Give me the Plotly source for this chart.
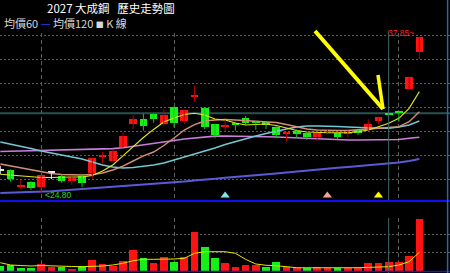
import plotly.graph_objects as go

W, H = 450, 273

# ---------------- data ----------------
opens = [26.75, 26.75, 25.47, 25.78, 25.31, 26.58, 26.25, 25.83, 26.25, 26.47,
         27.92, 27.50, 28.69, 30.56, 30.97, 31.42, 30.61, 32.03, 30.86, 32.92,
         31.94, 30.56, 30.44, 30.60, 31.06, 30.80, 30.78, 30.36, 29.81, 30.00,
         29.85, 29.48, 30.03, 29.81, 29.81, 30.08, 30.14, 30.86, 31.47, 31.56,
         33.47, 36.55]
highs = [27.10, 26.80, 25.92, 25.82, 26.35, 26.58, 26.39, 26.19, 26.39, 27.80,
         28.28, 28.40, 29.86, 31.33, 31.42, 31.45, 31.81, 32.05, 31.80, 33.75,
         32.00, 30.60, 30.92, 30.78, 31.25, 30.85, 30.80, 30.40, 29.94, 30.14,
         29.90, 29.85, 30.14, 29.85, 30.03, 30.14, 30.97, 31.20, 31.50, 31.60,
         34.55, 37.85]
lows = [26.40, 25.78, 25.14, 25.08, 24.80, 26.00, 25.69, 25.50, 25.31, 26.03,
        27.31, 27.45, 28.65, 30.14, 30.03, 30.69, 30.45, 30.28, 30.58, 32.44,
        30.14, 29.39, 29.94, 30.03, 30.50, 30.10, 30.17, 29.39, 29.11, 29.40,
        29.25, 29.17, 29.81, 29.33, 29.47, 29.67, 30.00, 30.56, 31.45, 30.78,
        33.45, 36.00]
closes = [26.75, 25.96, 25.47, 25.22, 26.33, 26.58, 25.86, 26.06, 25.69, 27.78,
          27.92, 28.36, 29.58, 30.97, 30.44, 30.97, 31.33, 30.64, 31.75, 32.92,
          30.36, 29.67, 30.44, 30.60, 30.69, 30.80, 30.50, 29.67, 29.81, 29.75,
          29.50, 29.81, 30.03, 29.53, 29.81, 29.86, 30.58, 31.19, 31.47, 31.56,
          34.53, 37.85]
# colour of each candle as drawn (R = up, G = down, W = unchanged)
candle_kinds = ['W', 'G', 'R', 'G', 'R', 'W', 'G', 'R', 'G', 'R',
                'R', 'R', 'R', 'R', 'G', 'G', 'R', 'G', 'R', 'R',
                'G', 'G', 'R', 'G', 'G', 'G', 'G', 'G', 'R', 'G',
                'G', 'R', 'R', 'G', 'R', 'G', 'R', 'R', 'G', 'G',
                'R', 'R']

ma_short = [26.39, 26.33, 26.25, 26.17, 26.13, 26.13, 26.17, 26.17, 26.17, 26.29,
            26.67, 27.17, 27.92, 28.71, 29.46, 30.13, 30.75, 31.08, 31.38, 31.48,
            31.33, 31.00, 30.92, 30.67, 30.50, 30.54, 30.58, 30.46, 30.25, 30.04,
            29.92, 29.86, 29.86, 29.86, 29.86, 29.94, 30.08, 30.36, 30.64, 31.06,
            31.89, 33.28]
ma_mid = [27.25, 27.08, 26.92, 26.75, 26.58, 26.46, 26.38, 26.33, 26.33, 26.38,
          26.50, 26.75, 27.08, 27.50, 27.92, 28.25, 28.79, 29.42, 30.08, 30.54,
          30.83, 30.92, 30.96, 30.92, 30.88, 30.83, 30.79, 30.71, 30.54, 30.33,
          30.17, 30.08, 30.04, 30.04, 30.04, 30.08, 30.17, 30.23, 30.31, 30.36,
          30.78, 31.61]
ma_long = [29.08, 28.92, 28.75, 28.54, 28.33, 28.17, 28.00, 27.83, 27.67, 27.42,
           27.17, 27.00, 26.92, 26.96, 27.04, 27.17, 27.33, 27.58, 27.83, 28.08,
           28.29, 28.58, 28.88, 29.13, 29.38, 29.58, 29.79, 30.00, 30.17, 30.33,
           30.42, 30.42, 30.42, 30.38, 30.33, 30.28, 30.25, 30.23, 30.23, 30.33,
           30.50, 30.83]
ma60 = [28.29, 28.31, 28.32, 28.33, 28.35, 28.37, 28.38, 28.40, 28.42, 28.45,
        28.48, 28.53, 28.60, 28.71, 28.83, 28.96, 29.08, 29.21, 29.33, 29.43,
        29.52, 29.57, 29.58, 29.58, 29.57, 29.54, 29.52, 29.50, 29.46, 29.42,
        29.38, 29.33, 29.31, 29.28, 29.25, 29.25, 29.25, 29.25, 29.25, 29.29,
        29.39, 29.48]
ma120 = [24.83, 24.85, 24.88, 24.90, 24.93, 24.98, 25.04, 25.10, 25.17, 25.23,
         25.30, 25.37, 25.42, 25.48, 25.52, 25.57, 25.64, 25.71, 25.79, 25.88,
         25.93, 26.02, 26.11, 26.17, 26.25, 26.32, 26.38, 26.46, 26.54, 26.63,
         26.71, 26.79, 26.88, 26.93, 27.00, 27.08, 27.15, 27.21, 27.27, 27.38,
         27.50, 27.67]

volumes = [1250, 1530, 780, 610, 1720, 1060, 890, 420, 1250, 2920,
           1810, 1250, 2640, 5700, 3390, 2170, 3670, 2450, 3670, 10790,
           6450, 3390, 2170, 890, 1530, 1530, 890, 2280, 890, 610,
           610, 890, 780, 610, 610, 700, 2170, 2170, 2450, 2450,
           4110, 14320]
volume_kinds = ['G', 'G', 'G', 'G', 'R', 'R', 'G', 'R', 'G', 'R',
                'R', 'R', 'R', 'R', 'G', 'R', 'R', 'G', 'R', 'R',
                'G', 'G', 'R', 'R', 'R', 'R', 'G', 'G', 'R', 'R',
                'G', 'R', 'R', 'G', 'R', 'R', 'R', 'R', 'R', 'R',
                'R', 'R']
volume_ma = [2170, 1530, 1390, 1250, 1390, 1250, 1170, 1110, 1060, 1110,
             1250, 1530, 2000, 2720, 3110, 3110, 3110, 3200, 3390, 4780,
             5230, 5230, 5230, 4780, 3110, 1810, 1450, 1330, 1060, 780,
             760, 740, 730, 730, 750, 780, 860, 950, 1060, 1530,
             2450, 5060]

month_starts = [4, 17, 39]
price_grid = [26, 28, 30, 32, 34, 36, 38]
volume_grid = [5000, 10000]
signal_idx = [22, 32, 37]
signal_colors = ['#7fe4ee', '#f2a58c', '#ffff00']
crosshair_idx = 38

TITLE = '2027 大成鋼\u00a0\u00a0\u00a0歷史走勢圖'
LEGEND = ('均價60 <span style="color:#3434ff">—</span> 均價120 '
          '<span style="font-size:8px">■</span> K 線')

# ---------------- styling / layout constants ----------------
BODY_COL = {'R': '#ff1212', 'G': '#16f016', 'W': '#e6e6e6'}
WICK_COL = {'R': '#b80000', 'G': '#12c812', 'W': '#e6e6e6'}
GRID = '#5c5c5c'
DOJI = 0.11
X_RANGE = [-0.03, 44.0]
PRICE_RANGE = [24.1667, 38.1667]
VOL_RANGE = [-695, 14595]


def py(p):  # pixel row -> paper y
    return 1 - p / H


def px(p):  # pixel column -> paper x
    return p / W


n = len(closes)
xs = list(range(n))

fig = go.Figure()

# moving averages (price panel)
for vals, col, wd in [(ma120, '#5a5ad8', 2.0), (ma60, '#cc7ddc', 1.6),
                      (ma_long, '#72c8d4', 1.5), (ma_mid, '#d48e78', 1.4),
                      (ma_short, '#e6e61e', 1.1)]:
    fig.add_trace(go.Scatter(x=xs, y=vals, mode='lines', line=dict(color=col, width=wd),
                             hoverinfo='skip', xaxis='x', yaxis='y'))

# wicks
for k in 'RGW':
    wx, wy = [], []
    for i in range(n):
        if candle_kinds[i] == k:
            wx += [i, i, None]
            wy += [lows[i], highs[i], None]
    fig.add_trace(go.Scatter(x=wx, y=wy, mode='lines', line=dict(color=WICK_COL[k], width=1),
                             hoverinfo='skip', xaxis='x', yaxis='y'))

# bodies
base, height = [], []
for o, c in zip(opens, closes):
    if abs(c - o) < DOJI:
        base.append((o + c) / 2 - DOJI / 2)
        height.append(DOJI)
    else:
        base.append(min(o, c))
        height.append(abs(c - o))
fig.add_trace(go.Bar(x=xs, y=height, base=base, width=0.75,
                     marker=dict(color=[BODY_COL[k] for k in candle_kinds], line=dict(width=0)),
                     hoverinfo='skip', xaxis='x', yaxis='y'))

# signal triangles
sig_level = PRICE_RANGE[0] + 0.45
fig.add_trace(go.Scatter(x=signal_idx, y=[sig_level] * len(signal_idx), mode='markers',
                         marker=dict(symbol='triangle-up', size=8, color=signal_colors,
                                     line=dict(width=0)),
                         hoverinfo='skip', xaxis='x', yaxis='y'))

# volume
fig.add_trace(go.Bar(x=xs, y=volumes, width=0.75,
                     marker=dict(color=[BODY_COL[k] for k in volume_kinds], line=dict(width=0)),
                     hoverinfo='skip', xaxis='x', yaxis='y2'))
fig.add_trace(go.Scatter(x=xs, y=volume_ma, mode='lines', line=dict(color='#e8e800', width=1),
                         hoverinfo='skip', xaxis='x', yaxis='y2'))

i_max = max(range(n), key=lambda i: highs[i])
i_min = min(range(n), key=lambda i: lows[i])

shapes = [
    # crosshair
    dict(type='line', xref='paper', x0=0, x1=1, yref='y',
         y0=closes[crosshair_idx], y1=closes[crosshair_idx],
         line=dict(color='#2b5252', width=2), layer='below'),
    dict(type='line', xref='x', x0=crosshair_idx, x1=crosshair_idx, yref='y domain',
         y0=0, y1=1.012, line=dict(color='#3f6a6a', width=1)),
    dict(type='line', xref='x', x0=crosshair_idx, x1=crosshair_idx, yref='y2 domain',
         y0=0, y1=1, line=dict(color='#3f6a6a', width=1)),
    # panel separators
    dict(type='line', xref='paper', x0=0, x1=1, yref='y domain', y0=0, y1=0,
         line=dict(color='#0e0ef0', width=2)),
    dict(type='line', xref='paper', x0=0, x1=1, yref='paper', y0=py(271.5), y1=py(271.5),
         line=dict(color='#1a1ab4', width=1.5)),
    dict(type='line', xref='paper', x0=px(447.6), x1=px(447.6), yref='paper', y0=0, y1=1,
         line=dict(color='#2c64b4', width=1.5)),
    # hand-drawn yellow arrow
    dict(type='line', xref='paper', yref='paper', x0=px(315), y0=py(31), x1=px(383), y1=py(109),
         line=dict(color='#ffff00', width=4)),
    dict(type='line', xref='paper', yref='paper', x0=px(378), y0=py(75), x1=px(383), y1=py(109),
         line=dict(color='#ffff00', width=3.5)),
]

annotations = [
    dict(text=TITLE, xref='paper', yref='paper', x=px(110.5), y=py(7.5),
         xanchor='center', yanchor='middle', showarrow=False,
         font=dict(family='Noto Sans CJK TC', size=11.5, color='#ffffff')),
    dict(text=LEGEND, xref='paper', yref='paper', x=px(2), y=py(22.5),
         xanchor='left', yanchor='middle', showarrow=False,
         font=dict(family='Noto Sans CJK TC', size=11, color='#d8d8d8')),
    dict(text=f'{highs[i_max]:.2f}~', xref='x', yref='y', x=i_max, y=highs[i_max],
         xanchor='right', yanchor='middle', xshift=-3, yshift=4, showarrow=False,
         font=dict(family='Liberation Sans', size=8.5, color='#ff2020')),
    dict(text=f'&lt;{lows[i_min]:.2f}', xref='x', yref='y', x=i_min, y=lows[i_min],
         xanchor='left', yanchor='middle', xshift=1.5, yshift=-2, showarrow=False,
         font=dict(family='Liberation Sans', size=8.5, color='#22dd22')),
]

fig.update_layout(
    width=W, height=H, margin=dict(l=0, r=0, t=0, b=0, pad=0),
    paper_bgcolor='#000000', plot_bgcolor='#000000',
    showlegend=False, barmode='overlay', bargap=0,
    xaxis=dict(range=X_RANGE, domain=[0, 1], anchor='y2', tickvals=month_starts,
               showticklabels=False, ticks='', showgrid=True, gridcolor=GRID,
               griddash='4px,3px', gridwidth=1, zeroline=False, showline=False),
    yaxis=dict(domain=[py(201), py(33)], range=PRICE_RANGE, tickvals=price_grid,
               showticklabels=False, ticks='', showgrid=True, gridcolor=GRID,
               griddash='2px,2px', gridwidth=1, zeroline=False, showline=False),
    yaxis2=dict(domain=[0, py(218)], range=VOL_RANGE, tickvals=volume_grid,
                showticklabels=False, ticks='', showgrid=True, gridcolor=GRID,
                griddash='2px,2px', gridwidth=1, zeroline=False, showline=False),
    shapes=shapes, annotations=annotations,
)

fig.write_html('out.html', config={'displayModeBar': False})
